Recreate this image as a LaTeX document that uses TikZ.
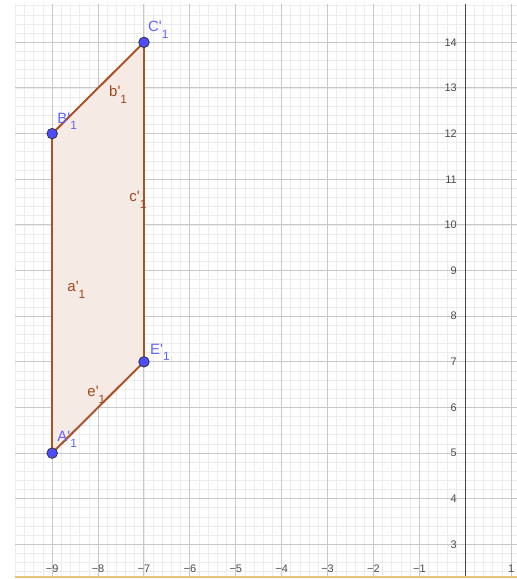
\documentclass[tikz,border=0pt]{standalone}
\usepackage{fontspec}
\setmainfont{Liberation Sans}
\definecolor{minorgrid}{RGB}{236,236,236}
\definecolor{majorgrid}{RGB}{200,200,200}
\definecolor{axiscol}{RGB}{70,70,70}
\definecolor{edgecol}{RGB}{170,82,40}
\definecolor{edgelab}{RGB}{160,72,28}
\definecolor{polyfill}{RGB}{245,234,228}
\definecolor{ptfill}{RGB}{77,77,255}
\definecolor{ptlab}{RGB}{100,100,255}
\definecolor{frameline}{RGB}{232,196,122}
\tikzset{
  mgrid/.style={draw=minorgrid, line width=0.8bp},
  Mgrid/.style={draw=majorgrid, line width=1bp},
  axisline/.style={draw=axiscol, line width=1.4bp},
  ticklab/.style={inner sep=0pt, font=\fontsize{11}{12}\selectfont, text=black!70},
  edge/.style={draw=edgecol, line width=2bp, line join=round},
  ptstyle/.style={circle, fill=ptfill, draw=black!80, line width=0.8bp, minimum size=10.5bp, inner sep=0pt},
  ptlabel/.style={anchor=base west, inner sep=0pt, text=ptlab, font=\fontsize{15}{17}\selectfont},
  edgelabel/.style={anchor=base west, inner sep=0pt, text=edgelab, font=\fontsize{15}{17}\selectfont}
}
\newcommand{\lbl}[2]{#1\textquotesingle\raisebox{-6.5bp}{\fontsize{12}{13}\selectfont #2}}
\begin{document}
\begin{tikzpicture}[x=45.9bp,y=45.64bp]
\useasboundingbox (-10.137,2.2414) rectangle (1.126,14.928);
\fill[white] (-10.137,2.2414) rectangle (1.126,14.928);
\begin{scope}
  \clip (-9.81,2.327) rectangle (1.126,14.82);
  \draw[mgrid] (-10.2,2) grid[step=0.2] (1.2,15);
  \draw[Mgrid] (-11,2) grid[step=1] (2,15);
  % polygon
  \coordinate (A) at (-9,5);
  \coordinate (B) at (-9,12);
  \coordinate (C) at (-7,14);
  \coordinate (E) at (-7,7);
  \fill[polyfill] (A) -- (B) -- (C) -- (E) -- cycle;
  \draw[axisline] (0,2.2) -- (0,15);
  % y tick labels
  \foreach \y in {3,...,14} {
    \node[ticklab, anchor=east] (yl\y) at (-0.18,\y) {\y};
  }
  % x tick labels
  \foreach \x in {-10,...,-1} {
    \node[ticklab] (xl\x) at (\x,2.46) {−\the\numexpr-\x\relax};
  }
  \node[ticklab] (xl1) at (1,2.46) {1};
\end{scope}
\draw[frameline, line width=1.8bp] (-9.81,2.285) -- (1.126,2.285);
% edges
\draw[edge] (A) -- (B);
\draw[edge] (B) -- (C);
\draw[edge] (C) -- (E);
\draw[edge] (E) -- (A);
% points
\node[ptstyle] (pA) at (A) {};
\node[ptstyle] (pB) at (B) {};
\node[ptstyle] (pC) at (C) {};
\node[ptstyle] (pE) at (E) {};
% point labels
\node[ptlabel] (lC) at (-6.913,14.227) {\lbl{C}{1}};
\node[ptlabel] (lB) at (-8.889,12.226) {\lbl{B}{1}};
\node[ptlabel] (lE) at (-6.869,7.171) {\lbl{E}{1}};
\node[ptlabel] (lA) at (-8.889,5.265) {\lbl{A}{1}};
% edge labels
\node[edgelabel] (la) at (-8.671,8.536) {\lbl{a}{1}};
\node[edgelabel] (lb) at (-7.762,12.809) {\lbl{b}{1}};
\node[edgelabel] (lc) at (-7.320,10.508) {\lbl{c}{1}};
\node[edgelabel] (le) at (-8.235,6.236) {\lbl{e}{1}};
\end{tikzpicture}
\end{document}
